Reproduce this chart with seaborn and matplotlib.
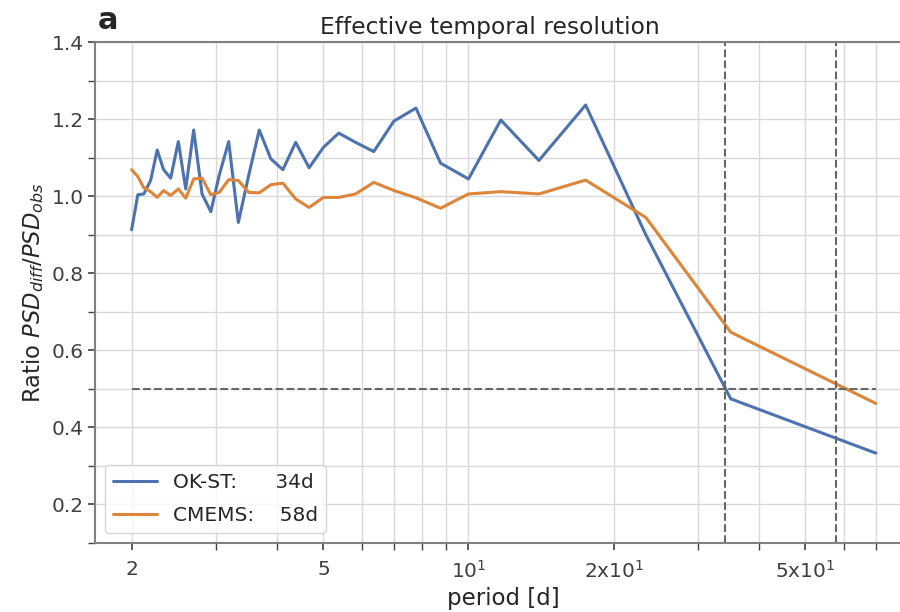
#!/usr/bin/env python3
import numpy as np
import pandas as pd
import matplotlib
matplotlib.use("Agg")
import matplotlib.pyplot as plt
from matplotlib.ticker import FixedLocator, NullFormatter, MultipleLocator
import seaborn as sns

OUT_PNG = "out.png"

# spectral periods [d] (70 d record, k = 1..35)
period = [70.0, 35.0, 23.33, 17.5, 14.0, 11.67, 10.0, 8.75, 7.78, 7.0,
          6.36, 5.83, 5.38, 5.0, 4.67, 4.38, 4.12, 3.89, 3.68, 3.5,
          3.33, 3.18, 3.04, 2.92, 2.8, 2.69, 2.59, 2.5, 2.41, 2.33,
          2.26, 2.19, 2.12, 2.06, 2.0]
okst = [0.333, 0.474, 0.90, 1.237, 1.093, 1.198, 1.045, 1.086, 1.229, 1.195,
        1.116, 1.140, 1.164, 1.127, 1.074, 1.140, 1.069, 1.097, 1.172, 1.055,
        0.932, 1.142, 1.055, 0.960, 1.006, 1.172, 1.019, 1.142, 1.047, 1.069,
        1.120, 1.041, 1.006, 1.004, 0.913]
cmems = [0.462, 0.647, 0.945, 1.042, 1.006, 1.012, 1.006, 0.969, 0.996, 1.015,
         1.036, 1.006, 0.997, 0.997, 0.971, 0.993, 1.034, 1.030, 1.009, 1.010,
         1.041, 1.043, 1.010, 1.004, 1.047, 1.045, 0.995, 1.019, 1.002, 1.015,
         0.997, 1.012, 1.022, 1.051, 1.069]
products = ["OK-ST", "CMEMS"]
eff_res = [34, 58]   # effective resolution [d]
xtick_vals = [2, 5, 10, 20, 50]
xtick_labels = ["2", "5", r"$10^1$", r"$2\mathregular{x}10^1$", r"$5\mathregular{x}10^1$"]

df = pd.DataFrame({"period": period * 2,
                   "ratio": okst + cmems,
                   "product": ["OK-ST"] * len(okst) + ["CMEMS"] * len(cmems)})

sns.set_theme(style="whitegrid", rc={
    "axes.edgecolor": "0.5", "axes.linewidth": 1.5,
    "grid.color": "0.85", "grid.linewidth": 1.0,
    "xtick.bottom": True, "ytick.left": True,
    "xtick.color": "0.25", "ytick.color": "0.25",
    "xtick.major.size": 5, "ytick.major.size": 5,
    "xtick.minor.size": 5, "ytick.minor.size": 5,
    "xtick.major.width": 1.2, "ytick.major.width": 1.2,
    "xtick.minor.width": 1.0, "ytick.minor.width": 1.0,
    "text.color": "0.15", "axes.labelcolor": "0.15"})
plt.rcParams["font.family"] = ["DejaVu Sans"]
pal = {"OK-ST": "#4C72B0", "CMEMS": "#DD8538"}

fig = plt.figure(figsize=(9, 6.12), dpi=100)
ax = fig.add_axes([0.105, 0.113, 1.0144 - 0.105, 0.931 - 0.113])

labels = {"OK-ST": f"OK-ST:      {eff_res[0]}d", "CMEMS": f"CMEMS:    {eff_res[1]}d"}
for p in products:
    d = df[df["product"] == p]
    sns.lineplot(data=d, x="period", y="ratio", color=pal[p], lw=2.2,
                 label=labels[p], ax=ax, sort=False)

ax.set_xscale("log")
ax.hlines(0.5, min(period), max(period), colors="0.4", linestyles="--", lw=1.5)
for r in eff_res:
    ax.axvline(r, color="0.4", ls="--", lw=1.5)

ax.set_xlim(1.675, 83.6)
ax.set_ylim(0.1, 1.4)
ax.yaxis.set_major_locator(MultipleLocator(0.2))
ax.yaxis.set_minor_locator(MultipleLocator(0.1))
ax.xaxis.set_minor_locator(FixedLocator([3, 4, 6, 7, 8, 9, 30, 40, 60, 70, 80]))
ax.xaxis.set_minor_formatter(NullFormatter())
ax.set_xticks(xtick_vals)
ax.set_xticklabels(xtick_labels)
ax.grid(True, which="both", color="0.85", lw=1.0)
ax.spines["right"].set_visible(False)
ax.tick_params(labelsize=14.5)
ax.tick_params(axis="x", which="major", pad=7)
ax.tick_params(axis="y", which="major", pad=2.5)

ax.set_xlabel("period [d]", fontsize=16.5)
ax.set_ylabel(r"Ratio $PSD_{diff}/PSD_{obs}$", fontsize=16.3)
ax.set_title("Effective temporal resolution", fontsize=16.8, x=0.483)
fig.text(98 / 900, 1 - 29 / 612, "a", fontsize=22, fontweight="bold", va="baseline")

leg = ax.legend(loc="lower left", fontsize=14.5, framealpha=0.8,
                handlelength=2.2, labelspacing=0.7)

plt.savefig(OUT_PNG, dpi=100)
print("save", OUT_PNG)
